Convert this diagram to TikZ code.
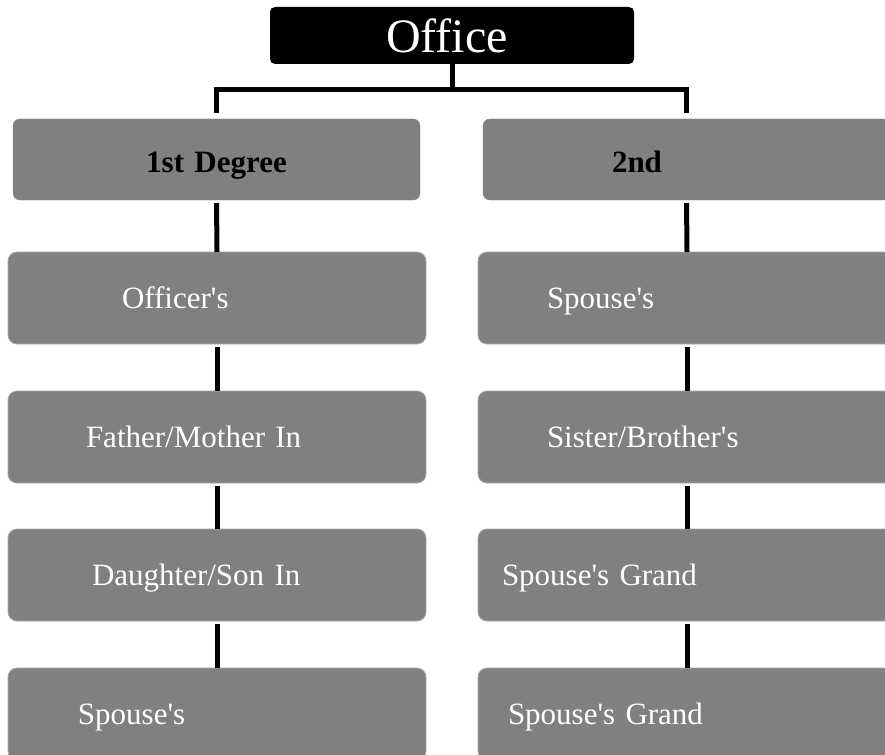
\documentclass[tikz,border=0pt]{standalone}
\usepackage{fontspec}
\setmainfont{Liberation Serif}
\usetikzlibrary{positioning}
\definecolor{officeblack}{HTML}{000000}
\definecolor{relgray}{HTML}{808080}
\definecolor{reledge}{HTML}{A8A8A8}
\newcommand{\apos}{\textquotesingle}

\begin{document}
\begin{tikzpicture}[x=1pt,y=-1pt,every node/.style={inner sep=0pt,outer sep=0pt},
  relbox/.style={fill=relgray,draw=reledge,line width=0.8pt,rounded corners=9pt,anchor=north west,
    minimum height=92pt,text width=418pt,text height=24pt,text depth=4pt,align=left,text=white,
    font=\fontsize{31}{36}\selectfont},
  degbox/.style={fill=relgray,draw=relgray,rounded corners=7pt,anchor=north west,
    minimum height=81pt,text width=407pt,text height=27pt,text depth=2pt,text=black,
    font=\fontsize{31}{36}\selectfont\bfseries},
  link/.style={line width=5pt,draw=black}]
\useasboundingbox (0,0) rectangle (885,754);
\clip (0,0) rectangle (885,754);
\node[fill=officeblack,rounded corners=5pt,minimum width=364pt,minimum height=57pt,text=white,
  font=\fontsize{48}{54}\selectfont] (office) at (452,35.5) {\hspace*{-10pt}Office};
\node[degbox,align=center] (deg1) at (13,119) {1st Degree};
\node[degbox,align=left] (deg2) at (483,119) {\hspace*{129pt}2nd};
% left column
\node[relbox] (l1) at (8,252) {\hspace*{114pt}Officer\apos s};
\node[relbox] (l2) at (8,391) {\hspace*{78pt}Father/Mother In};
\node[relbox] (l3) at (8,529) {\hspace*{84pt}Daughter/Son In};
\node[relbox] (l4) at (8,668) {\hspace*{70pt}Spouse\apos s};
% right column
\node[relbox] (r1) at (478,252) {\hspace*{69pt}Spouse\apos s};
\node[relbox] (r2) at (478,391) {\hspace*{69pt}Sister/Brother\apos s};
\node[relbox] (r3) at (478,529) {\hspace*{24pt}Spouse\apos s Grand};
\node[relbox] (r4) at (478,668) {\hspace*{30pt}Spouse\apos s Grand};
\draw[link] (office.south) -- ++(0,26) -| ([yshift=6pt]deg1.north);
\draw[link] (office.south) -- ++(0,26) -| ([yshift=6pt]deg2.north);
\draw[link,shorten <=3pt] (deg1.south) -- (l1.north);
\draw[link,shorten <=3pt] (deg2.south) -- (r1.north);
\draw[link,shorten <=3pt] (l1.south) -- (l2.north);
\draw[link,shorten <=3pt] (l2.south) -- (l3.north);
\draw[link,shorten <=3pt] (l3.south) -- (l4.north);
\draw[link,shorten <=3pt] (r1.south) -- (r2.north);
\draw[link,shorten <=3pt] (r2.south) -- (r3.north);
\draw[link,shorten <=3pt] (r3.south) -- (r4.north);
\end{tikzpicture}
\end{document}
